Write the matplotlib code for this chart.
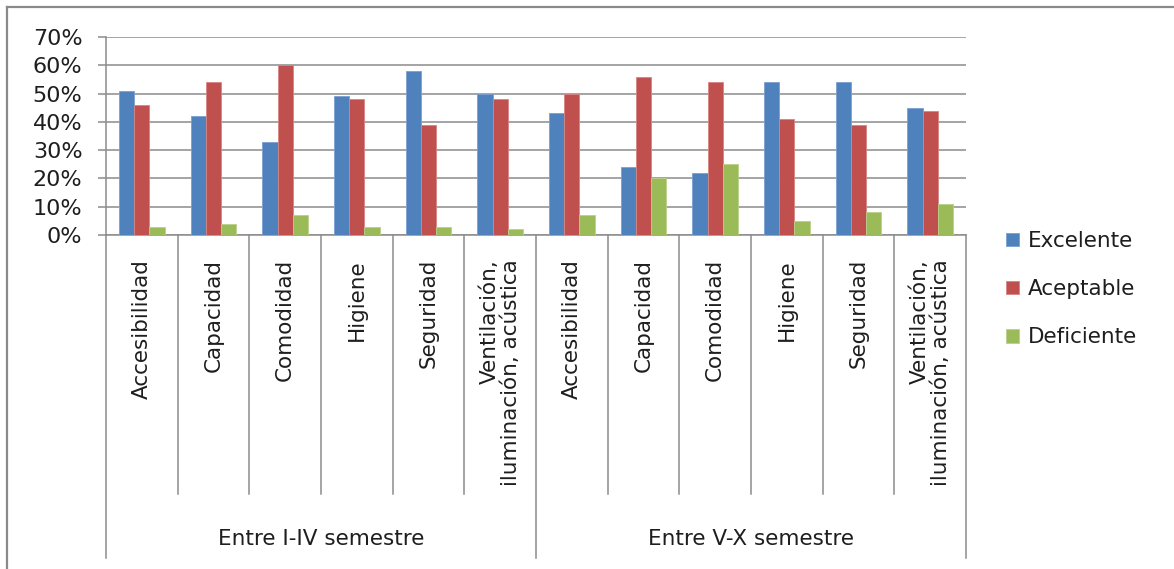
import numpy as np
import matplotlib
matplotlib.use("Agg")
import matplotlib.pyplot as plt
from matplotlib.lines import Line2D
from matplotlib.patches import Patch
from matplotlib.ticker import FuncFormatter
from matplotlib.transforms import blended_transform_factory

# ---- data -------------------------------------------------------------
groups = ["Entre I-IV semestre", "Entre V-X semestre"]
aspects = ["Accesibilidad", "Capacidad", "Comodidad", "Higiene", "Seguridad",
           "Ventilación,\niluminación, acústica"]
series_names = ["Excelente", "Aceptable", "Deficiente"]
excelente = [51, 42, 33, 49, 58, 50, 43, 24, 22, 54, 54, 45]
aceptable = [46, 54, 60, 48, 39, 48, 50, 56, 54, 41, 39, 44]
deficiente = [3, 4, 7, 3, 3, 2, 7, 20, 25, 5, 8, 11]
y_ticks = [0, 10, 20, 30, 40, 50, 60, 70]

# ---- style ------------------------------------------------------------
colors = ["#4F81BD", "#C0504D", "#9BBB59"]
edges = ["#7A9FD0", "#D88583", "#B9D18A"]
grid_c = "#8C8C8C"
text_c = "#1E1E1E"
plt.rcParams["font.family"] = ["DejaVu Sans"]

W, H = 1174, 569


def fx(px):
    return px / W


def fy(py):
    return 1 - py / H


fig = plt.figure(figsize=(W / 100, H / 100), dpi=100)
ax = fig.add_axes([fx(106), fy(235), (966 - 106) / W, (235 - 37) / H])

n = len(groups) * len(aspects)
x = np.arange(n)
bw = 0.213
for i, (vals, name) in enumerate(zip([excelente, aceptable, deficiente], series_names)):
    ax.bar(x + (i - 1) * bw, vals, bw, color=colors[i], edgecolor=edges[i],
           linewidth=0.6, label=name, zorder=3)

ax.set_xlim(-0.5, n - 0.5)
ax.set_ylim(y_ticks[0], y_ticks[-1])
ax.set_yticks(y_ticks)
ax.yaxis.set_major_formatter(FuncFormatter(lambda v, _: f"{v:.0f}%"))
ax.set_xticks([])
ax.yaxis.grid(True, color=grid_c, linewidth=1.1)
ax.set_axisbelow(True)
for s in ["top", "right"]:
    ax.spines[s].set_visible(False)
for s in ["left", "bottom"]:
    ax.spines[s].set_color(grid_c)
    ax.spines[s].set_linewidth(1.1)
ax.tick_params(axis="y", length=6, width=1.1, color=grid_c, labelsize=16,
               labelcolor=text_c, pad=11)

# ---- two-level category axis -----------------------------------------
tr = blended_transform_factory(ax.transData, fig.transFigure)
for k in range(n + 1):
    b = k - 0.5
    outer = k % len(aspects) == 0
    y_end = fy(558) if outer else fy(494)
    fig.add_artist(Line2D([b, b], [fy(235), y_end], transform=tr,
                          color=grid_c, linewidth=1.1, clip_on=False))

for k in range(n):
    label = aspects[k % len(aspects)]
    fig.text(k, fy(259), label, transform=tr, rotation=90, ha="center",
             va="top", multialignment="right", fontsize=15.5, color=text_c,
             linespacing=1.05)

for g, name in enumerate(groups):
    cx = g * len(aspects) + (len(aspects) - 1) / 2
    fig.text(cx, fy(545), name, transform=tr, ha="center", va="baseline",
             fontsize=15.5, color=text_c)

# ---- legend -----------------------------------------------------------
handles = [Patch(facecolor=c, edgecolor=e, linewidth=0.6) for c, e in zip(colors, edges)]
fig.legend(handles, series_names, loc="upper left",
           bbox_to_anchor=(fx(1006), fy(231)), frameon=False, fontsize=15.5,
           labelcolor=text_c, handlelength=0.6, handleheight=0.6,
           handletextpad=0.4, labelspacing=1.31, borderpad=0, borderaxespad=0)

# ---- chart frame ------------------------------------------------------
fig.add_artist(Line2D([fx(7), 1], [fy(7), fy(7)], transform=fig.transFigure,
                      color="#8A8A8A", linewidth=1.6))
fig.add_artist(Line2D([fx(7), fx(7)], [fy(7), 0], transform=fig.transFigure,
                      color="#8A8A8A", linewidth=1.6))

fig.savefig("out.png", dpi=100)
